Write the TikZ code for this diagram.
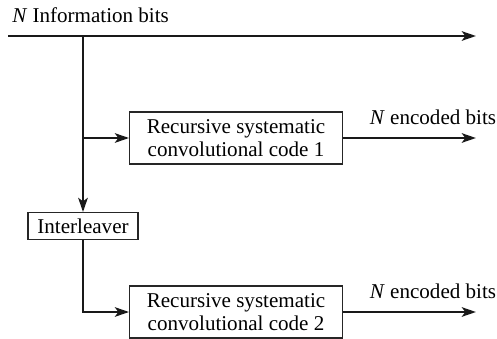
\documentclass[tikz,border=0pt]{standalone}
\usepackage{fontspec}
\setmainfont{Liberation Serif}
\usepackage{tikz}
\usetikzlibrary{arrows.meta,positioning,calc}

\begin{document}
\begin{tikzpicture}[x=0.75pt,y=-0.75pt,
        box/.style={rectangle, draw=black!85, line width=0.9pt, minimum width=159.5pt, minimum height=39pt, align=center, inner sep=0pt, font=\fontsize{15.8}{17.5}\selectfont},
        lbl/.style={inner sep=0pt, font=\fontsize{15.8}{17.5}\selectfont},
        arrow/.style={-{Stealth[length=10.5pt,width=7pt,inset=2.5pt]}, line width=2pt, black!90},
        wire/.style={line width=2pt, black!90}]

        \useasboundingbox (0,0) rectangle (497,339);

        \node[lbl, anchor=base west] (info) at (12,22) {\textit{N} Information bits};
        \coordinate (src) at (8,36);
        \coordinate (dst) at (476,36);
        \coordinate (j1) at (83,36);
        \coordinate (j2) at (83,138);

        \node[box] (rsc1) at (236,138) {Recursive systematic\\convolutional code 1};
        \node[box, minimum width=82.5pt, minimum height=20pt] (intl) at (83,226) {Interleaver};
        \node[box] (rsc2) at (236,312) {Recursive systematic\\convolutional code 2};

        \coordinate (out1) at (476,138);
        \coordinate (out2) at (476,312);
        \node[lbl] (enc1) at (433,117) {\textit{N} encoded bits};
        \node[lbl] (enc2) at (433,291) {\textit{N} encoded bits};

        \draw[arrow] (src) -- (dst);
        \draw[arrow] (j1) -- (intl.north);
        \draw[arrow] (j2) -- (rsc1.west);
        \draw[arrow] (intl.south) |- (rsc2.west);
        \draw[arrow] (rsc1.east) -- (out1);
        \draw[arrow] (rsc2.east) -- (out2);

    \end{tikzpicture}
\end{document}
